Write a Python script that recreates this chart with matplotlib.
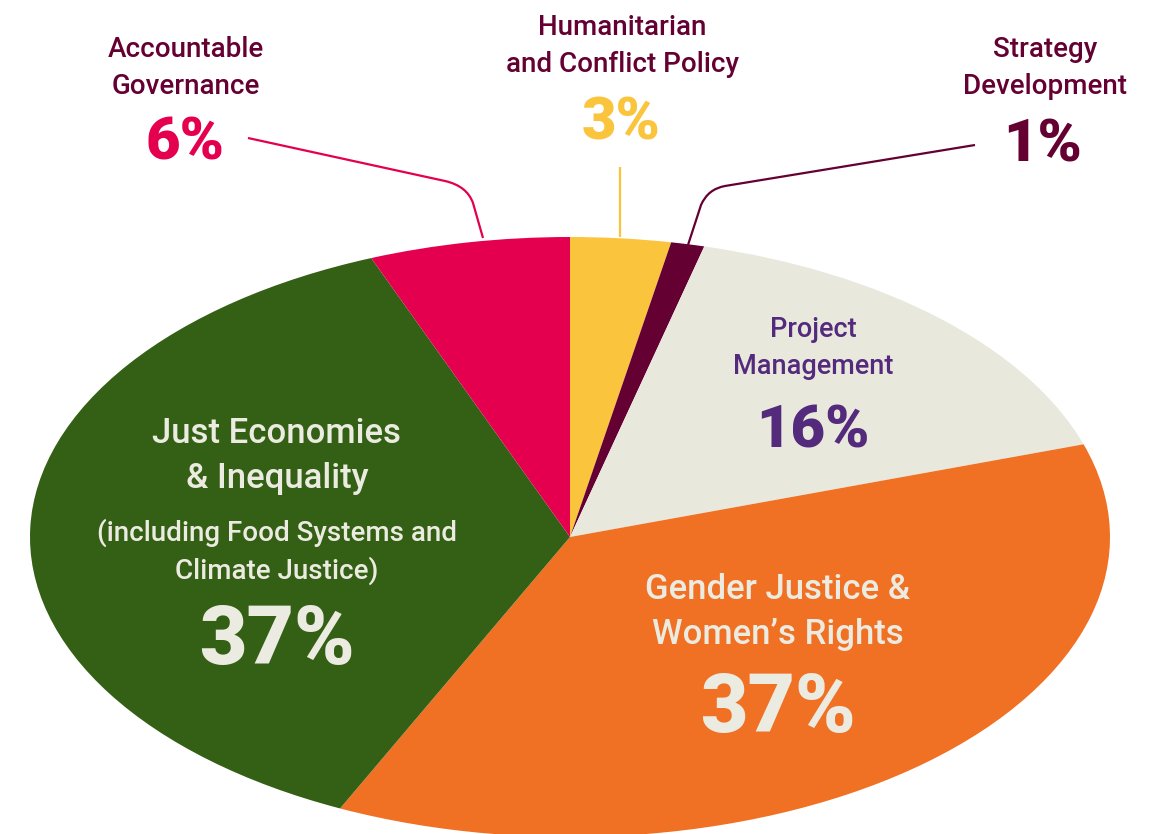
import numpy as np
import matplotlib.pyplot as plt
from matplotlib.path import Path
from matplotlib.patches import PathPatch

# shares, clockwise from 12 o'clock
labels = ['Humanitarian\nand Conflict Policy', 'Strategy\nDevelopment', 'Project\nManagement',
          'Gender Justice &\nWomen\u2019s Rights', 'Just Economies\n& Inequality',
          'Accountable\nGovernance']
shares = [3, 1, 16, 37, 37, 6]
colors = ['#FAC43D', '#650033', '#E9E8DD', '#F07024', '#336014', '#E4004F']

maroon = '#650033'
cream = '#ECEBE1'
purple = '#532A7C'
FONT = ['Roboto', 'DejaVu Sans']

W, H = 1155, 834
CX, CY, RX, RY = 570, 537, 540, 300   # ellipse in pixels


def px(x):
    return (x - CX) / RX


def py(y):
    return (CY - y) / RY


fig = plt.figure(figsize=(W / 100, H / 100), dpi=100)
ax = fig.add_axes([0, 0, 1, 1])
ax.pie(shares, colors=colors, startangle=90, counterclock=False,
       wedgeprops=dict(linewidth=0))
ax.set_aspect('auto')
ax.set_xlim(px(0), px(W))
ax.set_ylim(py(H), py(0))
ax.axis('off')


def txt(x, y, s, size, color, weight='medium', ls=1.45):
    ax.text(px(x), py(y), s, fontsize=size, color=color, ha='center', va='center',
            family=FONT, fontweight=weight, linespacing=ls)


def leader(pts, color, curved=False):
    pts = [(px(a), py(b)) for a, b in pts]
    if curved:
        codes = [Path.MOVETO, Path.LINETO, Path.CURVE3, Path.CURVE3, Path.LINETO]
    else:
        codes = [Path.MOVETO, Path.LINETO]
    ax.add_patch(PathPatch(Path(pts, codes), fill=False, edgecolor=color, lw=1.6,
                           capstyle='butt', joinstyle='round'))


# outside labels
txt(186, 68, labels[5], 20, maroon)
txt(185, 143, '6%', 43, colors[5], 'black')
txt(622, 46, labels[0], 20, maroon)
txt(621, 123, '3%', 43, colors[0], 'black')
txt(1045, 68, labels[1], 20, maroon)
txt(1043, 145, '1%', 43, maroon, 'black')

leader([(248, 138), (445, 181), (467, 186), (473, 203), (483, 238)], colors[5], True)
leader([(620, 167), (620, 237)], colors[0])
leader([(975, 145), (725, 186), (708, 189), (701, 205), (688, 245)], maroon, True)

# inside labels
txt(813, 348, labels[2], 19.5, purple)
txt(813, 432, '16%', 43, purple, 'black')
txt(277, 456, labels[4], 25, cream)
txt(277, 552, '(including Food Systems and\nClimate Justice)', 20, cream)
txt(277, 642, '37%', 59, cream, 'black')
txt(778, 612, labels[3], 25, cream)
txt(778, 710, '37%', 59, cream, 'black')

fig.savefig('out.png', dpi=100, facecolor='white')
